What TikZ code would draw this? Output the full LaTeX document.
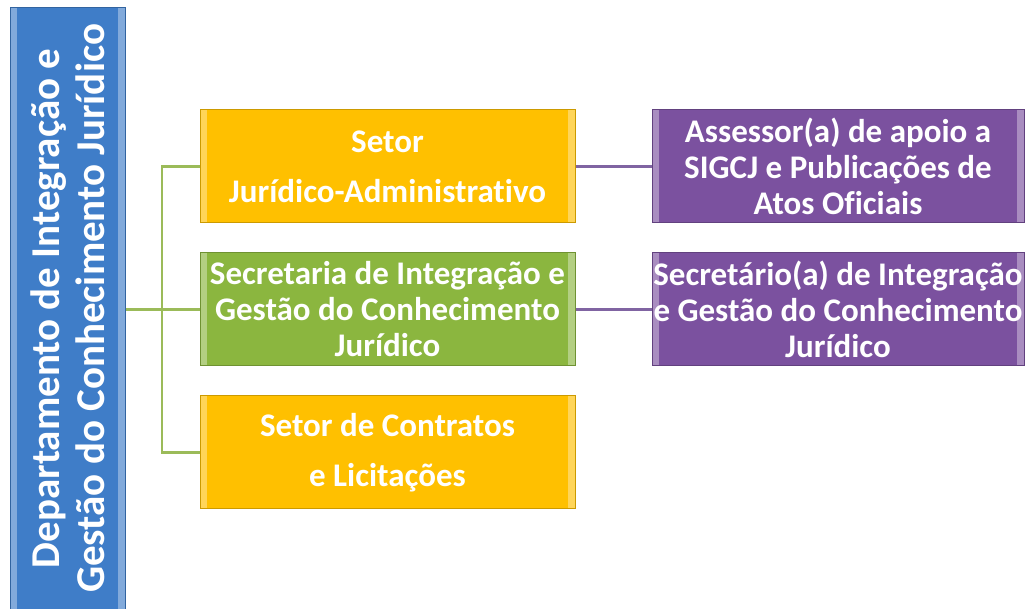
\documentclass[tikz,border=0pt]{standalone}
\usepackage{fontspec}
\setmainfont[Ligatures=NoCommon]{Carlito}
\usepackage{tikz}

\begin{document}
\begin{tikzpicture}[x=1pt,y=-1pt,
  outline/.style={draw=#1!80!black,line width=1pt,fill=#1,text=white,
    font=\fontsize{33}{36}\selectfont\bfseries,align=center,inner sep=0pt,
    minimum width=375pt,minimum height=113pt,
    path picture={
      \fill [white,opacity=0.35] (path picture bounding box.north west) rectangle
        ([xshift=7pt]path picture bounding box.south west);
      \fill [white,opacity=0.35] (path picture bounding box.north east) rectangle
        ([xshift=-7pt]path picture bounding box.south east);}},
  link/.style={line width=2.5pt,draw=#1}]
  \definecolor{dept}{HTML}{3F7DC8}
  \definecolor{setor}{HTML}{FFC000}
  \definecolor{secr}{HTML}{8BB63F}
  \definecolor{cargo}{HTML}{7B519F}
  \definecolor{greenline}{HTML}{9BBB59}
  \definecolor{purpleline}{HTML}{8064A2}
  \useasboundingbox (0,0) rectangle (1026,609);
  % main department
  \node [outline=dept,minimum width=115pt,minimum height=601pt] (dept) at (67.5,308.5) {};
  \node [rotate=90,text=white,align=center,
    font=\fontsize{41}{45}\selectfont\bfseries] (depttext) at (dept.center)
    {Departamento de Integração e\\Gestão do Conhecimento Jurídico};
  % sectors
  \node [outline=setor,font=\fontsize{33}{50}\selectfont\bfseries] (jur) at (387.5,166.5)
    {Setor\\Jurídico-Administrativo};
  \node [outline=secr] (sec) at (387.5,309.5)
    {Secretaria de Integração e\\Gestão do Conhecimento\\Jurídico};
  \node [outline=setor,font=\fontsize{33}{50}\selectfont\bfseries] (con) at (387.5,452.5)
    {Setor de Contratos\\e Licitações};
  % positions
  \node [outline=cargo,minimum width=372pt] (assessor) at (838,166.5)
    {Assessor(a) de apoio a\\SIGCJ e Publicações de\\Atos Oficiais};
  \node [outline=cargo,minimum width=372pt] (secretario) at (838,309.5)
    {Secretário(a) de Integração\\e Gestão do Conhecimento\\Jurídico};
  % connectors
  \coordinate (trunk) at (162,309.5);
  \draw [link=greenline] (dept.east |- sec) -- (sec.west);
  \draw [link=greenline] (jur.west) -- (jur.west -| trunk) -- (con.west -| trunk) -- (con.west);
  \draw [link=purpleline] (jur.east) -- (assessor.west);
  \draw [link=purpleline] (sec.east) -- (secretario.west);
\end{tikzpicture}
\end{document}
